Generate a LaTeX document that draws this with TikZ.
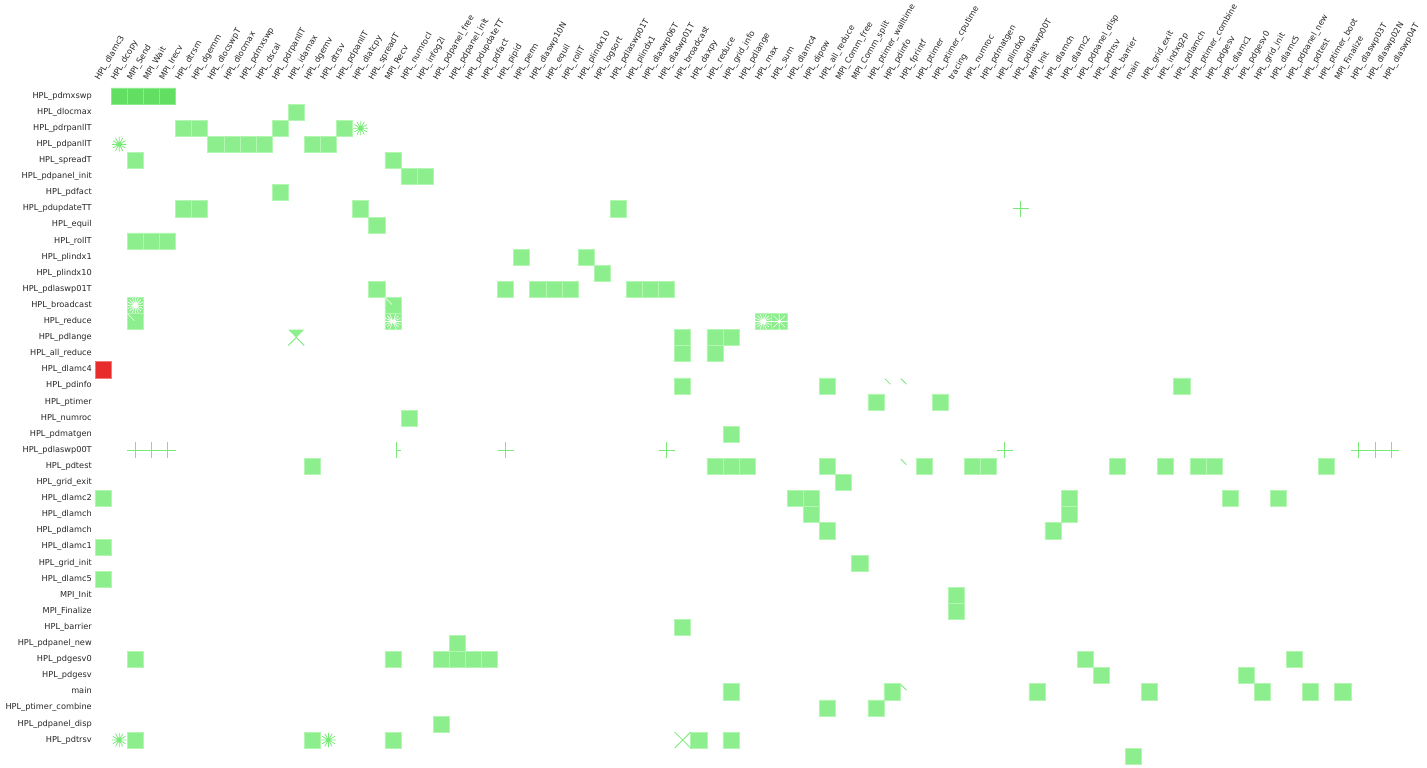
\documentclass[tikz,border=0pt]{standalone}
\usepackage{fontspec}
\setmainfont{DejaVu Sans}
\definecolor{cellgreen}{RGB}{140,238,140}
\definecolor{cellrim}{RGB}{178,246,178}
\definecolor{hotgreen}{RGB}{98,222,98}
\definecolor{hotrim}{RGB}{140,236,140}
\definecolor{redcell}{RGB}{232,44,44}
\definecolor{redrim}{RGB}{245,120,120}
\definecolor{spokegreen}{RGB}{120,234,120}
\begin{document}
\begin{tikzpicture}[x=16.1pt,y=-16.1pt,
	rowlab/.style={anchor=east,inner sep=0pt,text height=6pt,text depth=1.8pt,text=black!85,font=\fontsize{8.2}{9}\selectfont},
	collab/.style={anchor=south west,rotate=60,inner sep=0pt,text height=6pt,text depth=1.8pt,text=black!85,font=\fontsize{8.2}{9}\selectfont},
	cell/.style={fill=cellgreen,draw=cellrim,line width=0.5pt},
	hotcell/.style={fill=hotgreen,draw=hotrim,line width=0.5pt},
	redbox/.style={fill=redcell,draw=redrim,line width=0.5pt},
	spoke/.style={draw=spokegreen,line width=0.8pt},
	gapspoke/.style={draw=white,line width=0.6pt}]
	
	\useasboundingbox (-5.9006,-5.4658) rectangle (82.7329,42.2360);
	
	\node[collab] (c-dlamc3) at (0.38,-0.37) {HPL\_dlamc3};
	\node[collab] (c-dcopy) at (1.38,-0.37) {HPL\_dcopy};
	\node[collab] (c-MPISend) at (2.38,-0.37) {MPI\_Send};
	\node[collab] (c-MPIWait) at (3.38,-0.37) {MPI\_Wait};
	\node[collab] (c-MPIIrecv) at (4.38,-0.37) {MPI\_Irecv};
	\node[collab] (c-dtrsm) at (5.38,-0.37) {HPL\_dtrsm};
	\node[collab] (c-dgemm) at (6.38,-0.37) {HPL\_dgemm};
	\node[collab] (c-dlocswpT) at (7.38,-0.37) {HPL\_dlocswpT};
	\node[collab] (c-dlocmax) at (8.38,-0.37) {HPL\_dlocmax};
	\node[collab] (c-pdmxswp) at (9.38,-0.37) {HPL\_pdmxswp};
	\node[collab] (c-dscal) at (10.38,-0.37) {HPL\_dscal};
	\node[collab] (c-pdrpanllT) at (11.38,-0.37) {HPL\_pdrpanllT};
	\node[collab] (c-idamax) at (12.38,-0.37) {HPL\_idamax};
	\node[collab] (c-dgemv) at (13.38,-0.37) {HPL\_dgemv};
	\node[collab] (c-dtrsv) at (14.38,-0.37) {HPL\_dtrsv};
	\node[collab] (c-pdpanllT) at (15.38,-0.37) {HPL\_pdpanllT};
	\node[collab] (c-dlatcpy) at (16.38,-0.37) {HPL\_dlatcpy};
	\node[collab] (c-spreadT) at (17.38,-0.37) {HPL\_spreadT};
	\node[collab] (c-MPIRecv) at (18.38,-0.37) {MPI\_Recv};
	\node[collab] (c-numrocI) at (19.38,-0.37) {HPL\_numrocI};
	\node[collab] (c-infog2l) at (20.38,-0.37) {HPL\_infog2l};
	\node[collab] (c-pdpanelfree) at (21.38,-0.37) {HPL\_pdpanel\_free};
	\node[collab] (c-pdpanelinit) at (22.38,-0.37) {HPL\_pdpanel\_init};
	\node[collab] (c-pdupdateTT) at (23.38,-0.37) {HPL\_pdupdateTT};
	\node[collab] (c-pdfact) at (24.38,-0.37) {HPL\_pdfact};
	\node[collab] (c-pipid) at (25.38,-0.37) {HPL\_pipid};
	\node[collab] (c-perm) at (26.38,-0.37) {HPL\_perm};
	\node[collab] (c-dlaswp10N) at (27.38,-0.37) {HPL\_dlaswp10N};
	\node[collab] (c-equil) at (28.38,-0.37) {HPL\_equil};
	\node[collab] (c-rollT) at (29.38,-0.37) {HPL\_rollT};
	\node[collab] (c-plindx10) at (30.38,-0.37) {HPL\_plindx10};
	\node[collab] (c-logsort) at (31.38,-0.37) {HPL\_logsort};
	\node[collab] (c-pdlaswp01T) at (32.38,-0.37) {HPL\_pdlaswp01T};
	\node[collab] (c-plindx1) at (33.38,-0.37) {HPL\_plindx1};
	\node[collab] (c-dlaswp06T) at (34.38,-0.37) {HPL\_dlaswp06T};
	\node[collab] (c-dlaswp01T) at (35.38,-0.37) {HPL\_dlaswp01T};
	\node[collab] (c-broadcast) at (36.38,-0.37) {HPL\_broadcast};
	\node[collab] (c-daxpy) at (37.38,-0.37) {HPL\_daxpy};
	\node[collab] (c-reduce) at (38.38,-0.37) {HPL\_reduce};
	\node[collab] (c-gridinfo) at (39.38,-0.37) {HPL\_grid\_info};
	\node[collab] (c-pdlange) at (40.38,-0.37) {HPL\_pdlange};
	\node[collab] (c-max) at (41.38,-0.37) {HPL\_max};
	\node[collab] (c-sum) at (42.38,-0.37) {HPL\_sum};
	\node[collab] (c-dlamc4) at (43.38,-0.37) {HPL\_dlamc4};
	\node[collab] (c-dipow) at (44.38,-0.37) {HPL\_dipow};
	\node[collab] (c-allreduce) at (45.38,-0.37) {HPL\_all\_reduce};
	\node[collab] (c-MPICommfree) at (46.38,-0.37) {MPI\_Comm\_free};
	\node[collab] (c-MPICommsplit) at (47.38,-0.37) {MPI\_Comm\_split};
	\node[collab] (c-ptimerwalltime) at (48.38,-0.37) {HPL\_ptimer\_walltime};
	\node[collab] (c-pdinfo) at (49.38,-0.37) {HPL\_pdinfo};
	\node[collab] (c-fprintf) at (50.38,-0.37) {HPL\_fprintf};
	\node[collab] (c-ptimer) at (51.38,-0.37) {HPL\_ptimer};
	\node[collab] (c-ptimercputime) at (52.38,-0.37) {HPL\_ptimer\_cputime};
	\node[collab] (c-tracing) at (53.38,-0.37) {tracing};
	\node[collab] (c-numroc) at (54.38,-0.37) {HPL\_numroc};
	\node[collab] (c-pdmatgen) at (55.38,-0.37) {HPL\_pdmatgen};
	\node[collab] (c-plindx0) at (56.38,-0.37) {HPL\_plindx0};
	\node[collab] (c-pdlaswp00T) at (57.38,-0.37) {HPL\_pdlaswp00T};
	\node[collab] (c-MPIInit) at (58.38,-0.37) {MPI\_Init};
	\node[collab] (c-dlamch) at (59.38,-0.37) {HPL\_dlamch};
	\node[collab] (c-dlamc2) at (60.38,-0.37) {HPL\_dlamc2};
	\node[collab] (c-pdpaneldisp) at (61.38,-0.37) {HPL\_pdpanel\_disp};
	\node[collab] (c-pdtrsv) at (62.38,-0.37) {HPL\_pdtrsv};
	\node[collab] (c-barrier) at (63.38,-0.37) {HPL\_barrier};
	\node[collab] (c-main) at (64.38,-0.37) {main};
	\node[collab] (c-gridexit) at (65.38,-0.37) {HPL\_grid\_exit};
	\node[collab] (c-indxg2p) at (66.38,-0.37) {HPL\_indxg2p};
	\node[collab] (c-pdlamch) at (67.38,-0.37) {HPL\_pdlamch};
	\node[collab] (c-ptimercombine) at (68.38,-0.37) {HPL\_ptimer\_combine};
	\node[collab] (c-pdgesv) at (69.38,-0.37) {HPL\_pdgesv};
	\node[collab] (c-dlamc1) at (70.38,-0.37) {HPL\_dlamc1};
	\node[collab] (c-pdgesv0) at (71.38,-0.37) {HPL\_pdgesv0};
	\node[collab] (c-gridinit) at (72.38,-0.37) {HPL\_grid\_init};
	\node[collab] (c-dlamc5) at (73.38,-0.37) {HPL\_dlamc5};
	\node[collab] (c-pdpanelnew) at (74.38,-0.37) {HPL\_pdpanel\_new};
	\node[collab] (c-pdtest) at (75.38,-0.37) {HPL\_pdtest};
	\node[collab] (c-ptimerboot) at (76.38,-0.37) {HPL\_ptimer\_boot};
	\node[collab] (c-MPIFinalize) at (77.38,-0.37) {MPI\_Finalize};
	\node[collab] (c-dlaswp03T) at (78.38,-0.37) {HPL\_dlaswp03T};
	\node[collab] (c-dlaswp02N) at (79.38,-0.37) {HPL\_dlaswp02N};
	\node[collab] (c-dlaswp04T) at (80.38,-0.37) {HPL\_dlaswp04T};
	
	\node[rowlab] (r-pdmxswp) at (-0.19,0.5) {HPL\_pdmxswp};
	\node[rowlab] (r-dlocmax) at (-0.19,1.5) {HPL\_dlocmax};
	\node[rowlab] (r-pdrpanllT) at (-0.19,2.5) {HPL\_pdrpanllT};
	\node[rowlab] (r-pdpanllT) at (-0.19,3.5) {HPL\_pdpanllT};
	\node[rowlab] (r-spreadT) at (-0.19,4.5) {HPL\_spreadT};
	\node[rowlab] (r-pdpanelinit) at (-0.19,5.5) {HPL\_pdpanel\_init};
	\node[rowlab] (r-pdfact) at (-0.19,6.5) {HPL\_pdfact};
	\node[rowlab] (r-pdupdateTT) at (-0.19,7.5) {HPL\_pdupdateTT};
	\node[rowlab] (r-equil) at (-0.19,8.5) {HPL\_equil};
	\node[rowlab] (r-rollT) at (-0.19,9.5) {HPL\_rollT};
	\node[rowlab] (r-plindx1) at (-0.19,10.5) {HPL\_plindx1};
	\node[rowlab] (r-plindx10) at (-0.19,11.5) {HPL\_plindx10};
	\node[rowlab] (r-pdlaswp01T) at (-0.19,12.5) {HPL\_pdlaswp01T};
	\node[rowlab] (r-broadcast) at (-0.19,13.5) {HPL\_broadcast};
	\node[rowlab] (r-reduce) at (-0.19,14.5) {HPL\_reduce};
	\node[rowlab] (r-pdlange) at (-0.19,15.5) {HPL\_pdlange};
	\node[rowlab] (r-allreduce) at (-0.19,16.5) {HPL\_all\_reduce};
	\node[rowlab] (r-dlamc4) at (-0.19,17.5) {HPL\_dlamc4};
	\node[rowlab] (r-pdinfo) at (-0.19,18.5) {HPL\_pdinfo};
	\node[rowlab] (r-ptimer) at (-0.19,19.5) {HPL\_ptimer};
	\node[rowlab] (r-numroc) at (-0.19,20.5) {HPL\_numroc};
	\node[rowlab] (r-pdmatgen) at (-0.19,21.5) {HPL\_pdmatgen};
	\node[rowlab] (r-pdlaswp00T) at (-0.19,22.5) {HPL\_pdlaswp00T};
	\node[rowlab] (r-pdtest) at (-0.19,23.5) {HPL\_pdtest};
	\node[rowlab] (r-gridexit) at (-0.19,24.5) {HPL\_grid\_exit};
	\node[rowlab] (r-dlamc2) at (-0.19,25.5) {HPL\_dlamc2};
	\node[rowlab] (r-dlamch) at (-0.19,26.5) {HPL\_dlamch};
	\node[rowlab] (r-pdlamch) at (-0.19,27.5) {HPL\_pdlamch};
	\node[rowlab] (r-dlamc1) at (-0.19,28.5) {HPL\_dlamc1};
	\node[rowlab] (r-gridinit) at (-0.19,29.5) {HPL\_grid\_init};
	\node[rowlab] (r-dlamc5) at (-0.19,30.5) {HPL\_dlamc5};
	\node[rowlab] (r-MPIInit) at (-0.19,31.5) {MPI\_Init};
	\node[rowlab] (r-MPIFinalize) at (-0.19,32.5) {MPI\_Finalize};
	\node[rowlab] (r-barrier) at (-0.19,33.5) {HPL\_barrier};
	\node[rowlab] (r-pdpanelnew) at (-0.19,34.5) {HPL\_pdpanel\_new};
	\node[rowlab] (r-pdgesv0) at (-0.19,35.5) {HPL\_pdgesv0};
	\node[rowlab] (r-pdgesv) at (-0.19,36.5) {HPL\_pdgesv};
	\node[rowlab] (r-main) at (-0.19,37.5) {main};
	\node[rowlab] (r-ptimercombine) at (-0.19,38.5) {HPL\_ptimer\_combine};
	\node[rowlab] (r-pdpaneldisp) at (-0.19,39.5) {HPL\_pdpanel\_disp};
	\node[rowlab] (r-pdtrsv) at (-0.19,40.5) {HPL\_pdtrsv};
	
	\filldraw[hotcell] (1,0) rectangle ++(1,1) (2,0) rectangle ++(1,1) (3,0) rectangle ++(1,1) (4,0) rectangle ++(1,1);
	\filldraw[cell] (12,1) rectangle ++(1,1);
	\filldraw[cell] (5,2) rectangle ++(1,1) (6,2) rectangle ++(1,1) (11,2) rectangle ++(1,1) (15,2) rectangle ++(1,1);
	\draw[spoke] (16.5,2.5) +(0:.45)--+(180:.45) +(30:.45)--+(210:.45) +(60:.45)--+(240:.45) +(90:.45)--+(270:.45) +(120:.45)--+(300:.45) +(150:.45)--+(330:.45);
	\draw[spoke] (1.5,3.5) +(0:.45)--+(180:.45) +(30:.45)--+(210:.45) +(60:.45)--+(240:.45) +(90:.45)--+(270:.45) +(120:.45)--+(300:.45) +(150:.45)--+(330:.45);
	\filldraw[cell] (7,3) rectangle ++(1,1) (8,3) rectangle ++(1,1) (9,3) rectangle ++(1,1) (10,3) rectangle ++(1,1) (13,3) rectangle ++(1,1) (14,3) rectangle ++(1,1);
	\filldraw[cell] (2,4) rectangle ++(1,1) (18,4) rectangle ++(1,1);
	\filldraw[cell] (19,5) rectangle ++(1,1) (20,5) rectangle ++(1,1);
	\filldraw[cell] (11,6) rectangle ++(1,1);
	\filldraw[cell] (5,7) rectangle ++(1,1) (6,7) rectangle ++(1,1) (16,7) rectangle ++(1,1) (32,7) rectangle ++(1,1);
	\draw[spoke] (57.5,7.5) +(-.5,0)--+(.5,0) +(0,-.5)--+(0,.5);
	\filldraw[cell] (17,8) rectangle ++(1,1);
	\filldraw[cell] (2,9) rectangle ++(1,1) (3,9) rectangle ++(1,1) (4,9) rectangle ++(1,1);
	\filldraw[cell] (26,10) rectangle ++(1,1) (30,10) rectangle ++(1,1);
	\filldraw[cell] (31,11) rectangle ++(1,1);
	\filldraw[cell] (17,12) rectangle ++(1,1) (25,12) rectangle ++(1,1) (27,12) rectangle ++(1,1) (28,12) rectangle ++(1,1) (29,12) rectangle ++(1,1) (33,12) rectangle ++(1,1) (34,12) rectangle ++(1,1) (35,12) rectangle ++(1,1);
	
	\filldraw[cell] (2,13) rectangle ++(1,1) (18,13) rectangle ++(1,1);
	\draw[gapspoke] (2.5,13.5) +(0:.5)--+(180:.5) +(22.5:.5)--+(202.5:.5) +(45:.5)--+(225:.5) +(67.5:.5)--+(247.5:.5) +(90:.5)--+(270:.5) +(112.5:.5)--+(292.5:.5) +(135:.5)--+(315:.5) +(157.5:.5)--+(337.5:.5);
	\draw[gapspoke] (18,13) -- (18.45,13.45);
	\filldraw[cell] (2,14) rectangle ++(1,1) (18,14) rectangle ++(1,1) (41,14) rectangle ++(1,1) (42,14) rectangle ++(1,1);
	\draw[gapspoke] (2,14) -- (2.45,14.45);
	\draw[gapspoke] (18.5,14.5) +(0:.5)--+(180:.5) +(22.5:.5)--+(202.5:.5) +(45:.5)--+(225:.5) +(67.5:.5)--+(247.5:.5) +(112.5:.5)--+(292.5:.5) +(135:.5)--+(315:.5) +(157.5:.5)--+(337.5:.5);
	\draw[gapspoke] (41.5,14.5) +(0:.5)--+(180:.5) +(22.5:.5)--+(202.5:.5) +(45:.5)--+(225:.5) +(67.5:.5)--+(247.5:.5) +(90:.5)--+(270:.5) +(112.5:.5)--+(292.5:.5) +(135:.5)--+(315:.5) +(157.5:.5)--+(337.5:.5);
	\draw[gapspoke] (42.5,14.5) +(0:.5)--+(180:.5) +(45:.5)--+(225:.5) +(90:.5)--+(270:.5) +(135:.5)--+(315:.5);
	\fill[cellgreen] (12,15) -- (13,15) -- (12.5,15.5) -- cycle;
	\draw[spoke] (12.5,15.5) -- (12,16) (12.5,15.5) -- (13,16);
	\filldraw[cell] (36,15) rectangle ++(1,1) (38,15) rectangle ++(1,1) (39,15) rectangle ++(1,1);
	\filldraw[cell] (36,16) rectangle ++(1,1) (38,16) rectangle ++(1,1);
	\filldraw[redbox] (0,17) rectangle ++(1,1);
	\filldraw[cell] (36,18) rectangle ++(1,1) (45,18) rectangle ++(1,1) (67,18) rectangle ++(1,1);
	\draw[spoke] (49.05,18.05) -- (49.4,18.4) (50.05,18.05) -- (50.4,18.4);
	\filldraw[cell] (48,19) rectangle ++(1,1) (52,19) rectangle ++(1,1);
	\filldraw[cell] (19,20) rectangle ++(1,1);
	\filldraw[cell] (39,21) rectangle ++(1,1);
	
	\draw[spoke] (2.5,22.5) +(-.5,0)--+(.5,0) +(0,-.5)--+(0,.5);
	\draw[spoke] (3.5,22.5) +(-.5,0)--+(.5,0) +(0,-.5)--+(0,.5);
	\draw[spoke] (4.5,22.5) +(-.5,0)--+(.5,0) +(0,-.5)--+(0,.5);
	\draw[spoke] (18.7,22.5) +(0,-.5)--+(0,.5) +(0,0)--+(.3,0);
	\draw[spoke] (25.5,22.5) +(-.5,0)--+(.5,0) +(0,-.5)--+(0,.5);
	\draw[spoke] (35.5,22.5) +(-.5,0)--+(.5,0) +(0,-.5)--+(0,.5);
	\draw[spoke] (56.5,22.5) +(-.5,0)--+(.5,0) +(0,-.5)--+(0,.5);
	\draw[spoke] (78.5,22.5) +(-.5,0)--+(.5,0) +(0,-.5)--+(0,.5);
	\draw[spoke] (79.5,22.5) +(-.5,0)--+(.5,0) +(0,-.5)--+(0,.5);
	\draw[spoke] (80.5,22.5) +(-.5,0)--+(.5,0) +(0,-.5)--+(0,.5);
	\filldraw[cell] (13,23) rectangle ++(1,1) (38,23) rectangle ++(1,1) (39,23) rectangle ++(1,1) (40,23) rectangle ++(1,1) (45,23) rectangle ++(1,1) (51,23) rectangle ++(1,1) (54,23) rectangle ++(1,1) (55,23) rectangle ++(1,1) (63,23) rectangle ++(1,1) (66,23) rectangle ++(1,1) (68,23) rectangle ++(1,1) (69,23) rectangle ++(1,1) (76,23) rectangle ++(1,1);
	\draw[spoke] (50.05,23.05) -- (50.4,23.4);
	\filldraw[cell] (46,24) rectangle ++(1,1);
	\filldraw[cell] (0,25) rectangle ++(1,1) (43,25) rectangle ++(1,1) (44,25) rectangle ++(1,1) (60,25) rectangle ++(1,1) (70,25) rectangle ++(1,1) (73,25) rectangle ++(1,1);
	\filldraw[cell] (44,26) rectangle ++(1,1) (60,26) rectangle ++(1,1);
	\filldraw[cell] (45,27) rectangle ++(1,1) (59,27) rectangle ++(1,1);
	\filldraw[cell] (0,28) rectangle ++(1,1);
	\filldraw[cell] (47,29) rectangle ++(1,1);
	\filldraw[cell] (0,30) rectangle ++(1,1);
	\filldraw[cell] (53,31) rectangle ++(1,1);
	\filldraw[cell] (53,32) rectangle ++(1,1);
	\filldraw[cell] (36,33) rectangle ++(1,1);
	\filldraw[cell] (22,34) rectangle ++(1,1);
	\filldraw[cell] (2,35) rectangle ++(1,1) (18,35) rectangle ++(1,1) (21,35) rectangle ++(1,1) (22,35) rectangle ++(1,1) (23,35) rectangle ++(1,1) (24,35) rectangle ++(1,1) (61,35) rectangle ++(1,1) (74,35) rectangle ++(1,1);
	\filldraw[cell] (62,36) rectangle ++(1,1) (71,36) rectangle ++(1,1);
	\filldraw[cell] (39,37) rectangle ++(1,1) (49,37) rectangle ++(1,1) (58,37) rectangle ++(1,1) (65,37) rectangle ++(1,1) (72,37) rectangle ++(1,1) (75,37) rectangle ++(1,1) (77,37) rectangle ++(1,1);
	\draw[spoke] (50.05,37.05) -- (50.4,37.4);
	\filldraw[cell] (45,38) rectangle ++(1,1) (48,38) rectangle ++(1,1);
	\filldraw[cell] (21,39) rectangle ++(1,1);
	\draw[spoke] (1.5,40.5) +(0:.45)--+(180:.45) +(30:.45)--+(210:.45) +(60:.45)--+(240:.45) +(90:.45)--+(270:.45) +(120:.45)--+(300:.45) +(150:.45)--+(330:.45);
	\draw[spoke] (14.5,40.5) +(0:.45)--+(180:.45) +(30:.45)--+(210:.45) +(60:.45)--+(240:.45) +(90:.45)--+(270:.45) +(120:.45)--+(300:.45) +(150:.45)--+(330:.45);
	\filldraw[cell] (2,40) rectangle ++(1,1) (13,40) rectangle ++(1,1) (18,40) rectangle ++(1,1) (37,40) rectangle ++(1,1) (39,40) rectangle ++(1,1);
	\draw[spoke] (36,40) -- (37,41) (36,41) -- (37,40);
	\filldraw[cell] (64,41) rectangle ++(1,1);
	
\end{tikzpicture}
\end{document}
